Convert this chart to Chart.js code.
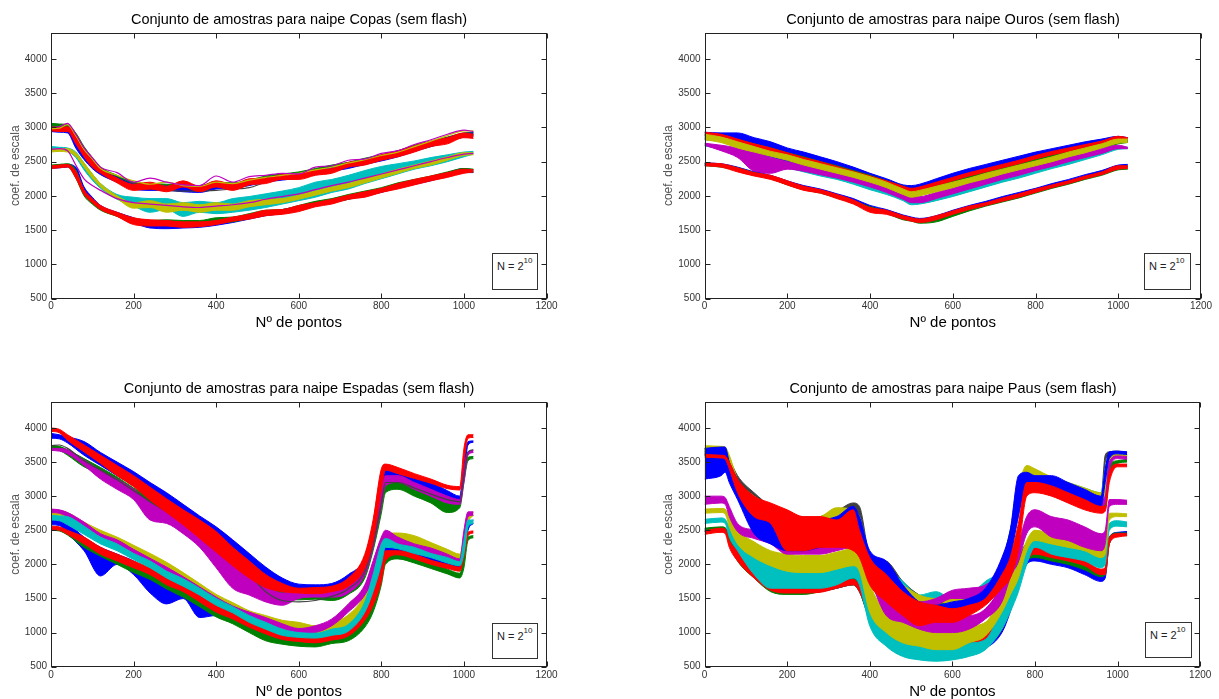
<!DOCTYPE html>
<html>
<head>
<meta charset="utf-8">
<script src="https://cdn.jsdelivr.net/npm/chart.js@4.4.1/dist/chart.umd.min.js"></script>
<style>
html,body{margin:0;padding:0;background:#fff;overflow:hidden;width:1219px;height:699px}
canvas{position:absolute}
.nbox{position:absolute;border:1px solid #333;background:#fff;font-family:"Liberation Sans",Arial,sans-serif;font-size:11px;color:#222;box-sizing:border-box;padding:6px 0 0 4px;line-height:12px;white-space:nowrap}
.nbox sup{font-size:8px;line-height:8px;vertical-align:top;position:relative;top:-3px}
</style>
</head>
<body>
<canvas id="c1" width="598" height="340" style="left:0;top:0;width:598px;height:340px"></canvas>
<canvas id="c2" width="600" height="340" style="left:653px;top:0;width:600px;height:340px"></canvas>
<canvas id="c3" width="598" height="340" style="left:0;top:369px;width:598px;height:340px"></canvas>
<canvas id="c4" width="600" height="340" style="left:653px;top:369px;width:600px;height:340px"></canvas>
<div class="nbox" style="left:492px;top:253px;width:46px;height:37px">N = 2<sup>10</sup></div>
<div class="nbox" style="left:1144px;top:253px;width:47px;height:37px">N = 2<sup>10</sup></div>
<div class="nbox" style="left:492px;top:623px;width:46px;height:36px">N = 2<sup>10</sup></div>
<div class="nbox" style="left:1145px;top:622px;width:47px;height:36px">N = 2<sup>10</sup></div>
<script>
// ---------------- DATA ----------------
const xTicks = [0,200,400,600,800,1000,1200];
const yTicks = [500,1000,1500,2000,2500,3000,3500,4000];

// Copas
const copasX = [0,20,40,60,80,100,120,160,200,240,280,320,360,400,440,480,520,560,600,640,680,720,760,800,840,880,920,960,1000,1023];
const copasGreenA = [[2990,3060],[2980,3050],[2960,3040],[2800,2920],[2600,2720],[2460,2560],[2350,2420],[2230,2300],[2130,2200],[2110,2180],[2100,2170],[2090,2160],[2080,2150],[2130,2200],[2130,2190],[2160,2230],[2220,2290],[2250,2320],[2280,2350],[2330,2400],[2380,2450],[2420,2490],[2480,2550],[2530,2600],[2580,2660],[2660,2740],[2720,2800],[2790,2860],[2860,2920],[2880,2930]];
const copasBlueA = [[2940,3000],[2930,2990],[2920,2980],[2700,2850],[2530,2640],[2400,2500],[2310,2380],[2200,2270],[2100,2170],[2080,2150],[2080,2140],[2060,2130],[2050,2120],[2100,2160],[2110,2170],[2150,2210],[2200,2260],[2230,2290],[2260,2320],[2310,2370],[2360,2420],[2400,2460],[2460,2520],[2510,2570],[2570,2630],[2650,2710],[2720,2780],[2790,2850],[2860,2910],[2870,2920]];
const copasRedA = [[2950,3010],[2940,3000],[2940,3010],[2760,2900],[2570,2680],[2420,2520],[2330,2400],[2190,2260],[2080,2170],[2100,2200],[2060,2140],[2130,2220],[2060,2140],[2130,2220],[2080,2170],[2160,2250],[2180,2260],[2240,2310],[2240,2320],[2300,2380],[2330,2400],[2420,2490],[2450,2520],[2520,2600],[2570,2660],[2640,2730],[2720,2800],[2760,2850],[2850,2920],[2840,2900]];
const copasMagA = [3000,3010,3060,2900,2700,2560,2420,2340,2200,2260,2200,2160,2150,2290,2200,2280,2300,2330,2320,2420,2440,2520,2540,2620,2660,2750,2820,2900,2960,2940];
const copasYelA = [2980,2990,3040,2880,2680,2540,2400,2300,2220,2170,2200,2150,2140,2200,2180,2230,2270,2300,2330,2380,2420,2480,2530,2590,2640,2720,2800,2880,2950,2950];
const copasGrayA = [2990,2990,2990,2850,2650,2500,2380,2250,2140,2100,2080,2070,2070,2080,2100,2120,2200,2250,2290,2340,2390,2440,2500,2550,2610,2680,2750,2820,2890,2900];
const copasMagB = [2680,2690,2660,2450,2250,2150,2080,1960,1900,1880,1860,1840,1830,1850,1870,1900,1950,1990,2030,2090,2150,2200,2260,2320,2380,2440,2500,2560,2610,2620];
const copasCyanB = [[2680,2720],[2670,2710],[2650,2700],[2560,2640],[2380,2480],[2230,2320],[2110,2180],[1950,2020],[1850,1980],[1760,1960],[1800,1960],[1700,1900],[1760,1920],[1740,1900],[1760,1960],[1790,1990],[1830,2030],[1880,2070],[1930,2120],[1980,2200],[2050,2240],[2100,2300],[2180,2370],[2250,2430],[2320,2470],[2390,2510],[2440,2560],[2500,2600],[2570,2640],[2610,2650]];
const copasYelB = [[2640,2680],[2650,2690],[2640,2690],[2580,2630],[2420,2480],[2260,2320],[2130,2180],[1960,2000],[1820,1900],[1830,1930],[1760,1880],[1790,1900],[1760,1870],[1790,1900],[1790,1880],[1840,1930],[1870,1950],[1900,1960],[1950,2010],[2010,2070],[2070,2130],[2120,2180],[2190,2250],[2260,2320],[2330,2390],[2400,2450],[2450,2510],[2520,2570],[2590,2630],[2600,2630]];
const copasBlueC = [[2400,2440],[2410,2450],[2420,2460],[2300,2420],[2030,2130],[1900,1980],[1800,1860],[1710,1760],[1610,1680],[1530,1600],[1520,1590],[1530,1590],[1540,1600],[1570,1630],[1610,1670],[1660,1720],[1710,1770],[1740,1800],[1790,1850],[1860,1910],[1900,1950],[1950,2000],[2000,2050],[2050,2100],[2120,2170],[2170,2220],[2220,2270],[2290,2340],[2340,2400],[2340,2380]];
const copasGreenC = [[2410,2450],[2420,2460],[2430,2470],[2260,2380],[2000,2080],[1880,1940],[1790,1840],[1700,1750],[1610,1670],[1570,1640],[1580,1650],[1570,1640],[1570,1640],[1600,1680],[1620,1690],[1670,1740],[1720,1790],[1740,1800],[1790,1860],[1850,1920],[1900,1960],[1950,2020],[2010,2070],[2060,2120],[2130,2190],[2180,2240],[2230,2290],[2290,2350],[2340,2400],[2350,2390]];
const copasRedC = [[2400,2440],[2410,2450],[2420,2460],[2260,2360],[2020,2090],[1900,1960],[1800,1860],[1700,1760],[1580,1680],[1560,1650],[1560,1640],[1540,1620],[1550,1620],[1580,1640],[1630,1690],[1660,1730],[1710,1790],[1730,1800],[1770,1860],[1840,1900],[1880,1950],[1950,2010],[1980,2060],[2050,2110],[2100,2180],[2160,2240],[2220,2290],[2270,2340],[2330,2390],[2350,2380]];

// Ouros
const ourosX = [0,40,80,120,160,200,240,280,320,360,400,440,480,500,520,560,600,640,680,720,760,800,840,880,920,960,1000,1023];
const ourosBlueA = [[2820,2930],[2800,2920],[2730,2920],[2640,2850],[2570,2790],[2500,2700],[2430,2640],[2370,2570],[2300,2500],[2230,2420],[2160,2330],[2090,2250],[2020,2160],[2000,2150],[2020,2170],[2100,2250],[2170,2330],[2240,2400],[2300,2460],[2360,2520],[2420,2580],[2480,2640],[2540,2690],[2600,2740],[2650,2790],[2710,2830],[2770,2870],[2790,2850]];
const ourosGreenA = [[2840,2900],[2800,2870],[2740,2820],[2680,2760],[2620,2700],[2560,2630],[2490,2570],[2430,2500],[2370,2440],[2300,2370],[2220,2300],[2150,2220],[2060,2140],[2030,2100],[2050,2120],[2110,2190],[2180,2250],[2240,2310],[2300,2370],[2360,2430],[2420,2480],[2480,2540],[2540,2600],[2590,2660],[2650,2710],[2700,2760],[2760,2820],[2780,2820]];
const ourosRedA = [[2880,2930],[2850,2900],[2780,2830],[2710,2760],[2640,2700],[2580,2630],[2510,2560],[2450,2500],[2380,2430],[2310,2360],[2240,2290],[2170,2220],[2090,2140],[2060,2110],[2080,2130],[2150,2200],[2220,2270],[2290,2340],[2350,2400],[2410,2460],[2470,2520],[2540,2590],[2600,2650],[2650,2700],[2710,2750],[2760,2800],[2830,2870],[2820,2850]];
const ourosCyanA = [[2730,2760],[2680,2720],[2600,2650],[2530,2580],[2460,2510],[2410,2450],[2350,2390],[2290,2330],[2240,2280],[2170,2210],[2090,2130],[2020,2060],[1930,1970],[1870,1920],[1880,1930],[1930,1980],[1990,2040],[2060,2110],[2130,2180],[2200,2250],[2260,2310],[2330,2380],[2400,2450],[2460,2510],[2530,2580],[2600,2650],[2680,2720],[2690,2710]];
const ourosMagA = [[2740,2770],[2660,2740],[2560,2700],[2360,2640],[2330,2560],[2390,2500],[2360,2450],[2310,2400],[2260,2350],[2200,2280],[2130,2220],[2050,2130],[1950,2030],[1900,1990],[1900,1990],[1960,2050],[2030,2120],[2100,2190],[2170,2260],[2240,2320],[2300,2390],[2370,2450],[2430,2510],[2500,2570],[2560,2630],[2620,2690],[2690,2740],[2690,2710]];
const ourosYelA = [[2820,2900],[2780,2860],[2700,2790],[2640,2720],[2580,2650],[2520,2600],[2450,2530],[2390,2470],[2330,2410],[2270,2350],[2200,2280],[2120,2200],[2020,2100],[1980,2060],[2000,2080],[2060,2140],[2120,2200],[2190,2260],[2250,2330],[2320,2390],[2380,2450],[2440,2510],[2500,2570],[2570,2640],[2630,2700],[2700,2760],[2770,2830],[2780,2830]];
const ourosBlueB = [[2450,2480],[2430,2470],[2380,2420],[2310,2350],[2260,2300],[2180,2220],[2110,2150],[2060,2100],[1990,2030],[1920,1960],[1820,1860],[1760,1800],[1690,1720],[1660,1690],[1640,1670],[1680,1710],[1760,1790],[1830,1860],[1890,1920],[1950,1990],[2010,2050],[2070,2110],[2140,2180],[2200,2240],[2270,2310],[2330,2370],[2410,2450],[2420,2460]];
const ourosGreenB = [[2440,2470],[2420,2460],[2370,2410],[2300,2340],[2250,2290],[2160,2200],[2090,2130],[2040,2080],[1970,2010],[1890,1930],[1790,1840],[1740,1780],[1650,1700],[1630,1670],[1600,1650],[1620,1680],[1700,1750],[1780,1830],[1850,1890],[1910,1950],[1970,2010],[2040,2080],[2110,2150],[2170,2210],[2240,2280],[2300,2340],[2380,2420],[2390,2430]];
const ourosRedB = [[2440,2480],[2420,2470],[2350,2410],[2290,2340],[2240,2300],[2160,2220],[2080,2140],[2040,2090],[1960,2020],[1880,1940],[1760,1830],[1730,1790],[1660,1710],[1630,1680],[1610,1660],[1650,1710],[1730,1780],[1800,1850],[1860,1900],[1920,1970],[1980,2030],[2050,2100],[2120,2160],[2180,2220],[2250,2290],[2310,2350],[2390,2440],[2400,2440]];

// Espadas
const espX = [0,20,40,80,120,160,200,240,280,320,360,400,440,480,520,560,600,640,680,720,760,780,800,810,840,880,920,960,990,1000,1010,1023];
const espBlueA = [[3850,3920],[3840,3900],[3780,3870],[3600,3800],[3450,3640],[3300,3500],[3150,3360],[2980,3200],[2820,3050],[2650,2880],[2480,2710],[2300,2550],[2100,2360],[1900,2160],[1750,1960],[1650,1800],[1600,1710],[1560,1700],[1580,1720],[1650,1850],[1900,2100],[2300,2550],[2900,3200],[3250,3400],[3250,3380],[3150,3300],[3060,3200],[2950,3080],[2900,3000],[3300,3500],[3750,3800],[3790,3810]];
const espGreenA = [[3680,3740],[3670,3730],[3600,3680],[3430,3550],[3320,3420],[3180,3280],[3030,3120],[2880,2980],[2720,2820],[2560,2660],[2380,2500],[2200,2330],[1950,2100],[1750,1900],[1580,1750],[1500,1650],[1480,1620],[1490,1600],[1470,1600],[1560,1680],[1800,1980],[2200,2450],[2750,3000],[3050,3200],[3100,3230],[3000,3130],[2900,3040],[2760,2900],[2830,2900],[3200,3350],[3520,3570],[3550,3580]];
const espMagA = [[3670,3700],[3660,3700],[3620,3680],[3450,3530],[3250,3380],[3100,3250],[2950,3100],[2650,2900],[2600,2800],[2450,2700],[2250,2500],[1950,2350],[1650,2000],[1550,1900],[1450,1700],[1400,1580],[1500,1620],[1520,1620],[1520,1620],[1580,1700],[1850,2050],[2250,2500],[2850,3100],[3150,3300],[3200,3300],[3100,3200],[3000,3100],[2900,3000],[2880,2950],[3200,3400],[3600,3650],[3640,3670]];
const espGrayA = [3740,3750,3700,3520,3380,3240,3080,2920,2770,2600,2430,2250,2050,1850,1600,1470,1450,1470,1530,1640,1900,2300,2900,3200,3200,3120,3030,2950,2920,3300,3650,3680];
const espRedA = [[3950,4000],[3930,3980],[3820,3900],[3650,3750],[3480,3600],[3300,3450],[3140,3300],[2940,3130],[2760,2960],[2580,2800],[2380,2650],[2180,2480],[1980,2250],[1800,2050],[1660,1850],[1600,1720],[1580,1650],[1570,1660],[1600,1680],[1680,1800],[1950,2150],[2350,2650],[3100,3400],[3380,3470],[3330,3420],[3260,3330],[3190,3250],[3110,3160],[3090,3140],[3500,3700],[3850,3900],[3860,3900]];
const espBlueB = [[2580,2660],[2570,2650],[2450,2600],[2200,2400],[1830,2250],[2000,2150],[1850,2050],[1580,1900],[1420,1800],[1500,1650],[1220,1500],[1250,1400],[1150,1300],[1050,1200],[950,1100],[900,1050],[880,1000],[870,980],[900,1050],[950,1100],[1150,1350],[1400,1700],[1800,2100],[2100,2300],[2150,2250],[2100,2200],[2000,2100],[1950,2050],[1950,2020],[2100,2300],[2500,2600],[2600,2650]];
const espGreenB = [[2500,2540],[2490,2530],[2430,2480],[2250,2330],[2120,2200],[2000,2080],[1880,1950],[1780,1850],[1640,1720],[1520,1600],[1380,1470],[1230,1320],[1130,1220],[1000,1080],[880,980],[830,920],[800,880],[790,870],[840,920],[880,1000],[1080,1200],[1300,1500],[1700,1900],[2000,2150],[2080,2160],[2020,2100],[1940,2020],[1860,1930],[1800,1870],[1950,2100],[2350,2400],[2390,2420]];
const espRedB = [[2510,2560],[2500,2550],[2440,2500],[2300,2400],[2150,2250],[2050,2150],[1950,2050],[1850,1950],[1700,1800],[1600,1700],[1450,1550],[1300,1400],[1200,1300],[1080,1150],[980,1050],[900,960],[870,930],[850,940],[890,980],[950,1060],[1180,1300],[1400,1600],[1750,1950],[2050,2200],[2140,2200],[2080,2150],[2000,2060],[1940,2000],[1900,1960],[2100,2250],[2420,2470],[2460,2490]];
const espYelB = [[2720,2800],[2720,2790],[2680,2760],[2550,2620],[2420,2500],[2320,2400],[2200,2280],[2080,2160],[1950,2030],[1800,1880],[1640,1720],[1480,1560],[1350,1440],[1240,1320],[1150,1250],[1050,1180],[990,1150],[990,1100],[1020,1150],[1120,1260],[1380,1560],[1650,1900],[2100,2350],[2300,2450],[2350,2460],[2300,2420],[2220,2320],[2130,2220],[2080,2150],[2200,2400],[2600,2700],[2720,2760]];
const espMagB = [[2760,2810],[2750,2800],[2700,2760],[2550,2620],[2380,2450],[2290,2360],[2160,2220],[2020,2090],[1890,1960],[1740,1820],[1590,1670],[1440,1520],[1320,1390],[1220,1300],[1130,1220],[1060,1130],[980,1060],[1000,1100],[1100,1200],[1300,1420],[1550,1700],[1800,2050],[2200,2400],[2350,2500],[2300,2400],[2200,2300],[2140,2240],[2050,2150],[2000,2080],[2300,2500],[2700,2770],[2720,2770]];
const espCyanB = [[2650,2720],[2640,2710],[2580,2700],[2440,2560],[2300,2400],[2200,2300],[2070,2160],[1950,2050],[1800,1900],[1680,1790],[1550,1650],[1400,1500],[1290,1380],[1150,1250],[1050,1150],[960,1050],[930,1000],[920,990],[960,1050],[1020,1120],[1300,1450],[1600,1850],[2000,2300],[2250,2380],[2230,2300],[2160,2250],[2100,2160],[2020,2100],[1980,2040],[2150,2350],[2550,2650],[2600,2650]];

// Paus
const pausX = [0,40,50,60,80,120,160,200,240,280,320,360,375,400,440,480,520,560,600,640,680,720,740,760,780,800,840,880,920,960,970,980,1000,1023];
const pausGrayA = [[3620,3700],[3620,3700],[3600,3680],[3450,3550],[3200,3300],[2950,3050],[2750,2850],[2600,2700],[2550,2650],[2580,2700],[2650,2780],[2750,2900],[2500,2850],[2000,2150],[1900,2050],[1600,1750],[1400,1550],[1350,1450],[1400,1500],[1400,1500],[1450,1550],[1800,2000],[2200,2400],[2800,3100],[3200,3350],[3200,3300],[3150,3250],[3080,3180],[3000,3100],[2900,3000],[3500,3600],[3600,3650],[3620,3660],[3600,3640]];
const pausCyanA = [[3650,3700],[3650,3700],[3600,3700],[3400,3550],[3100,3200],[2850,2980],[2700,2850],[2600,2700],[2580,2700],[2580,2680],[2650,2800],[2650,2800],[2500,2700],[2000,2150],[1800,1950],[1600,1750],[1450,1550],[1450,1600],[1400,1500],[1450,1550],[1600,1750],[1800,1950],[2100,2300],[2800,3100],[3300,3400],[3250,3350],[3180,3280],[3100,3200],[3020,3120],[2950,3050],[3200,3400],[3550,3600],[3580,3620],[3570,3610]];
const pausYelA = [[3680,3740],[3680,3730],[3650,3720],[3450,3600],[3100,3250],[2850,3000],[2700,2850],[2600,2700],[2550,2680],[2600,2700],[2700,2830],[2650,2800],[2500,2700],[1950,2100],[1750,1900],[1550,1700],[1400,1550],[1350,1500],[1400,1500],[1450,1550],[1500,1600],[1750,1900],[2100,2300],[2800,3100],[3350,3450],[3300,3400],[3200,3280],[3120,3200],[3050,3120],[2950,3050],[3000,3200],[3450,3550],[3580,3620],[3560,3600]];
const pausGreenA = [[3600,3680],[3600,3660],[3580,3640],[3350,3500],[3100,3250],[2850,2980],[2700,2850],[2500,2650],[2450,2600],[2450,2600],[2500,2650],[2550,2700],[2400,2600],[1900,2050],[1700,1850],[1500,1650],[1300,1450],[1300,1450],[1250,1400],[1350,1500],[1450,1550],[1850,2000],[2300,2500],[2750,3000],[3100,3250],[3100,3200],[3050,3150],[3000,3100],[2900,3000],[2800,2880],[2800,2900],[3300,3450],[3480,3520],[3500,3540]];
const pausMagA = [[3600,3650],[3600,3650],[3580,3630],[3380,3480],[3080,3200],[2800,2950],[2650,2800],[2450,2600],[2400,2550],[2400,2550],[2450,2600],[2500,2650],[2350,2550],[1850,2000],[1600,1750],[1400,1550],[1350,1450],[1400,1500],[1500,1620],[1500,1650],[1550,1700],[1800,1950],[2200,2400],[2750,3000],[3150,3300],[3150,3250],[3100,3200],[3020,3120],[2950,3050],[2850,2950],[2900,3000],[3400,3500],[3550,3590],[3540,3580]];
const pausBlueA = [[3250,3700],[3300,3720],[3350,3720],[3200,3500],[2950,3250],[2450,2950],[2300,2750],[2200,2600],[2200,2600],[2250,2650],[2300,2700],[2400,2850],[2300,2700],[1950,2200],[1700,2050],[1450,1700],[1300,1450],[1300,1400],[1350,1450],[1300,1500],[1450,1650],[1750,2100],[2100,2500],[2700,3300],[3200,3350],[3150,3300],[3100,3300],[3000,3200],[2900,3100],[2850,3000],[3200,3400],[3550,3650],[3620,3660],[3610,3650]];
const pausRedA = [[3570,3610],[3560,3600],[3540,3590],[3400,3500],[3050,3250],[2700,3000],[2600,2900],[2200,2800],[2200,2700],[2250,2700],[2250,2650],[2200,2800],[2100,2500],[1700,2100],[1450,1850],[1250,1600],[1100,1450],[1150,1400],[1150,1350],[1250,1400],[1400,1500],[1650,1850],[1800,2100],[2200,2600],[3000,3200],[3050,3200],[3000,3150],[2900,3050],[2800,2950],[2750,2850],[2780,2850],[3200,3350],[3430,3470],[3430,3470]];
const pausBlueB = [[2480,2520],[2500,2540],[2480,2530],[2350,2450],[2100,2250],[1800,1950],[1650,1750],[1600,1700],[1580,1680],[1600,1700],[1650,1750],[1700,1800],[1600,1750],[1200,1500],[950,1200],[800,1000],[750,950],[700,900],[720,900],[750,900],[780,950],[1000,1300],[1300,1600],[1700,2000],[2000,2300],[2050,2250],[2000,2150],[1950,2100],[1850,2000],[1750,1850],[1800,1900],[2300,2400],[2430,2470],[2440,2480]];
const pausGreenB = [[2490,2530],[2510,2550],[2490,2540],[2300,2400],[2050,2200],[1800,1900],[1600,1700],[1560,1650],[1560,1650],[1600,1680],[1650,1720],[1700,1800],[1600,1700],[1200,1450],[950,1200],[800,1000],[750,950],[700,900],[720,880],[750,900],[800,950],[1050,1300],[1400,1650],[1750,2050],[2050,2300],[2100,2200],[2050,2150],[2000,2100],[1920,2020],[1820,1900],[1850,1950],[2300,2400],[2420,2460],[2420,2460]];
const pausRedB = [[2440,2490],[2470,2530],[2450,2520],[2250,2350],[2050,2200],[1800,1900],[1620,1700],[1580,1650],[1580,1640],[1590,1650],[1650,1720],[1700,1780],[1600,1700],[1250,1500],[1000,1250],[850,1050],[800,1000],[750,950],[750,920],[780,950],[820,980],[1050,1300],[1350,1600],[1700,2000],[2050,2300],[2150,2250],[2100,2200],[2050,2150],[1980,2060],[1850,1930],[1850,1950],[2300,2400],[2400,2450],[2420,2450]];
const pausMagB = [[2880,3000],[2900,3000],[2880,2980],[2700,2850],[2480,2600],[2380,2500],[2300,2400],[2150,2300],[2150,2250],[2150,2300],[2200,2350],[2250,2400],[2200,2350],[1800,2000],[1250,1550],[1150,1350],[1050,1300],[1000,1300],[1000,1250],[1050,1250],[1200,1350],[1450,1700],[1800,2000],[2050,2300],[2450,2700],[2550,2800],[2400,2700],[2350,2650],[2250,2550],[2200,2450],[2300,2500],[2850,2950],[2880,2950],[2880,2940]];
const pausCyanB = [[2600,2660],[2620,2680],[2600,2660],[2400,2550],[2200,2350],[1850,2200],[1650,2050],[1650,2000],[1650,1950],[1650,1950],[1700,2000],[1800,2100],[1700,2050],[1100,1500],[800,1200],[650,1000],[600,900],[580,850],[600,850],[650,850],[750,900],[1050,1350],[1300,1600],[1600,1900],[2000,2300],[2250,2400],[2150,2350],[2100,2300],[2050,2250],[1950,2150],[2000,2200],[2500,2600],[2560,2640],[2550,2620]];
const pausYelB = [[2750,2810],[2760,2820],[2740,2810],[2550,2700],[2300,2500],[2100,2330],[1980,2200],[1900,2150],[1880,2130],[1880,2130],[1930,2180],[1980,2230],[1900,2150],[1300,1700],[1000,1300],[850,1200],[800,1150],[750,1100],[750,1100],[850,1100],[950,1150],[1300,1550],[1550,1800],[1800,2000],[2200,2350],[2350,2500],[2300,2450],[2250,2400],[2200,2300],[2100,2200],[2150,2300],[2650,2750],[2700,2750],[2700,2740]];

// ---------------- STYLE ----------------
const COL = {b:'#0000ff', g:'#008000', r:'#ff0000', c:'#00bfbf', m:'#bf00bf', y:'#bfbf00', k:'#404040'};
Chart.defaults.font.family = "'Liberation Sans', Arial, Helvetica, sans-serif";

const panels = [
  {id:'c1', title:'Conjunto de amostras para naipe Copas (sem flash)', xs:copasX, yW:51, rW:51.5, xH:41.5, layers:[
    ['band','g',copasGreenA],['band','b',copasBlueA],['line','k',copasGrayA],['band','r',copasRedA],['line','y',copasYelA],['line','m',copasMagA],
    ['band','c',copasCyanB],['band','y',copasYelB],['line','m',copasMagB],
    ['band','b',copasBlueC],['band','g',copasGreenC],['band','r',copasRedC]]},
  {id:'c2', title:'Conjunto de amostras para naipe Ouros (sem flash)', xs:ourosX, yW:51.5, rW:52, xH:41.5, layers:[
    ['band','b',ourosBlueA],['band','g',ourosGreenA],['band','r',ourosRedA],['band','c',ourosCyanA],['band','m',ourosMagA],['band','y',ourosYelA],
    ['band','b',ourosBlueB],['band','g',ourosGreenB],['band','r',ourosRedB]]},
  {id:'c3', title:'Conjunto de amostras para naipe Espadas (sem flash)', xs:espX, yW:51, rW:51.5, xH:42.3, layers:[
    ['band','b',espBlueB],['band','g',espGreenB],['band','r',espRedB],['band','y',espYelB],['band','m',espMagB],['band','c',espCyanB],
    ['band','b',espBlueA],['band','g',espGreenA],['band','m',espMagA],['line','k',espGrayA],['band','r',espRedA]]},
  {id:'c4', title:'Conjunto de amostras para naipe Paus (sem flash)', xs:pausX, yW:51.5, rW:52.8, xH:42.3, layers:[
    ['band','b',pausBlueB],['band','g',pausGreenB],['band','r',pausRedB],['band','c',pausCyanB],['band','y',pausYelB],['band','m',pausMagB],
    ['band','k',pausGrayA],['band','c',pausCyanA],['band','y',pausYelA],['band','g',pausGreenA],['band','m',pausMagA],['band','b',pausBlueA],['band','r',pausRedA]]}
];

const framePlugin = {
  id:'frame',
  afterDraw(chart){
    const {ctx, chartArea:a, scales:{x, y}} = chart;
    ctx.save();
    ctx.strokeStyle = '#222'; ctx.lineWidth = 1;
    const L = Math.round(a.left)+0.5, R = Math.round(a.right)-0.5, T = Math.round(a.top)+0.5, B = Math.round(a.bottom)-0.5;
    ctx.strokeRect(L, T, R-L, B-T);
    ctx.beginPath();
    x.ticks.forEach(t => { const px = Math.round(x.getPixelForValue(t.value))+0.5; ctx.moveTo(px,B); ctx.lineTo(px,B-5); ctx.moveTo(px,T); ctx.lineTo(px,T+5); });
    y.ticks.forEach(t => { const py = Math.round(y.getPixelForValue(t.value))+0.5; ctx.moveTo(L,py); ctx.lineTo(L+5,py); ctx.moveTo(R,py); ctx.lineTo(R-5,py); });
    ctx.stroke();
    ctx.restore();
  }
};

function buildDatasets(xs, layers){
  const ds = [];
  layers.forEach(([kind, c, vals]) => {
    const color = COL[c];
    const base = {borderColor:color, backgroundColor:color, borderWidth:1, pointRadius:0, cubicInterpolationMode:'monotone'};
    if (kind === 'band') {
      ds.push(Object.assign({}, base, {data: xs.map((x,i)=>({x, y: vals[i][0]})), fill:false}));
      ds.push(Object.assign({}, base, {data: xs.map((x,i)=>({x, y: vals[i][1]})), fill:'-1'}));
    } else {
      ds.push(Object.assign({}, base, {data: xs.map((x,i)=>({x, y: vals[i]})), fill:false, borderWidth:1.2}));
    }
  });
  const n = ds.length;
  ds.forEach((d,i) => d.order = n - i);
  return ds;
}

const plain = v => String(v);

panels.forEach(p => {
  new Chart(document.getElementById(p.id), {
    type:'line',
    data:{datasets: buildDatasets(p.xs, p.layers)},
    options:{
      responsive:false, animation:false, devicePixelRatio:1,
      layout:{padding:0},
      plugins:{
        legend:{display:false}, tooltip:{enabled:false},
        title:{display:true, text:p.title, color:'#000', font:{size:14.5, weight:'normal'}, padding:{top:11.3, bottom:4.3}}
      },
      scales:{
        x:{type:'linear', min:0, max:1200,
           afterBuildTicks: s => { s.ticks = xTicks.map(v => ({value:v})); },
           ticks:{padding:2.2, color:'#333', font:{size:10}, maxRotation:0, autoSkip:false, callback:plain},
           grid:{display:false, drawTicks:false}, border:{display:false},
           title:{display:true, text:'Nº de pontos', color:'#000', font:{size:15}, padding:{top:0, bottom:8}},
           afterFit: s => { s.height = p.xH; }},
        y:{type:'linear', position:'left', min:500, max:4380,
           afterBuildTicks: s => { s.ticks = yTicks.map(v => ({value:v})); },
           ticks:{padding:4, color:'#333', font:{size:10}, autoSkip:false, callback:plain},
           grid:{display:false, drawTicks:false}, border:{display:false},
           title:{display:true, text:'coef. de escala', color:'#555', font:{size:12}, padding:{top:8.8, bottom:0}},
           afterFit: s => { s.width = p.yW; }},
        yR:{type:'linear', position:'right', display:true,
           ticks:{display:false}, grid:{display:false, drawTicks:false}, border:{display:false},
           afterFit: s => { s.width = p.rW; }}
      }
    },
    plugins:[framePlugin]
  });
});
</script>
</body>
</html>
